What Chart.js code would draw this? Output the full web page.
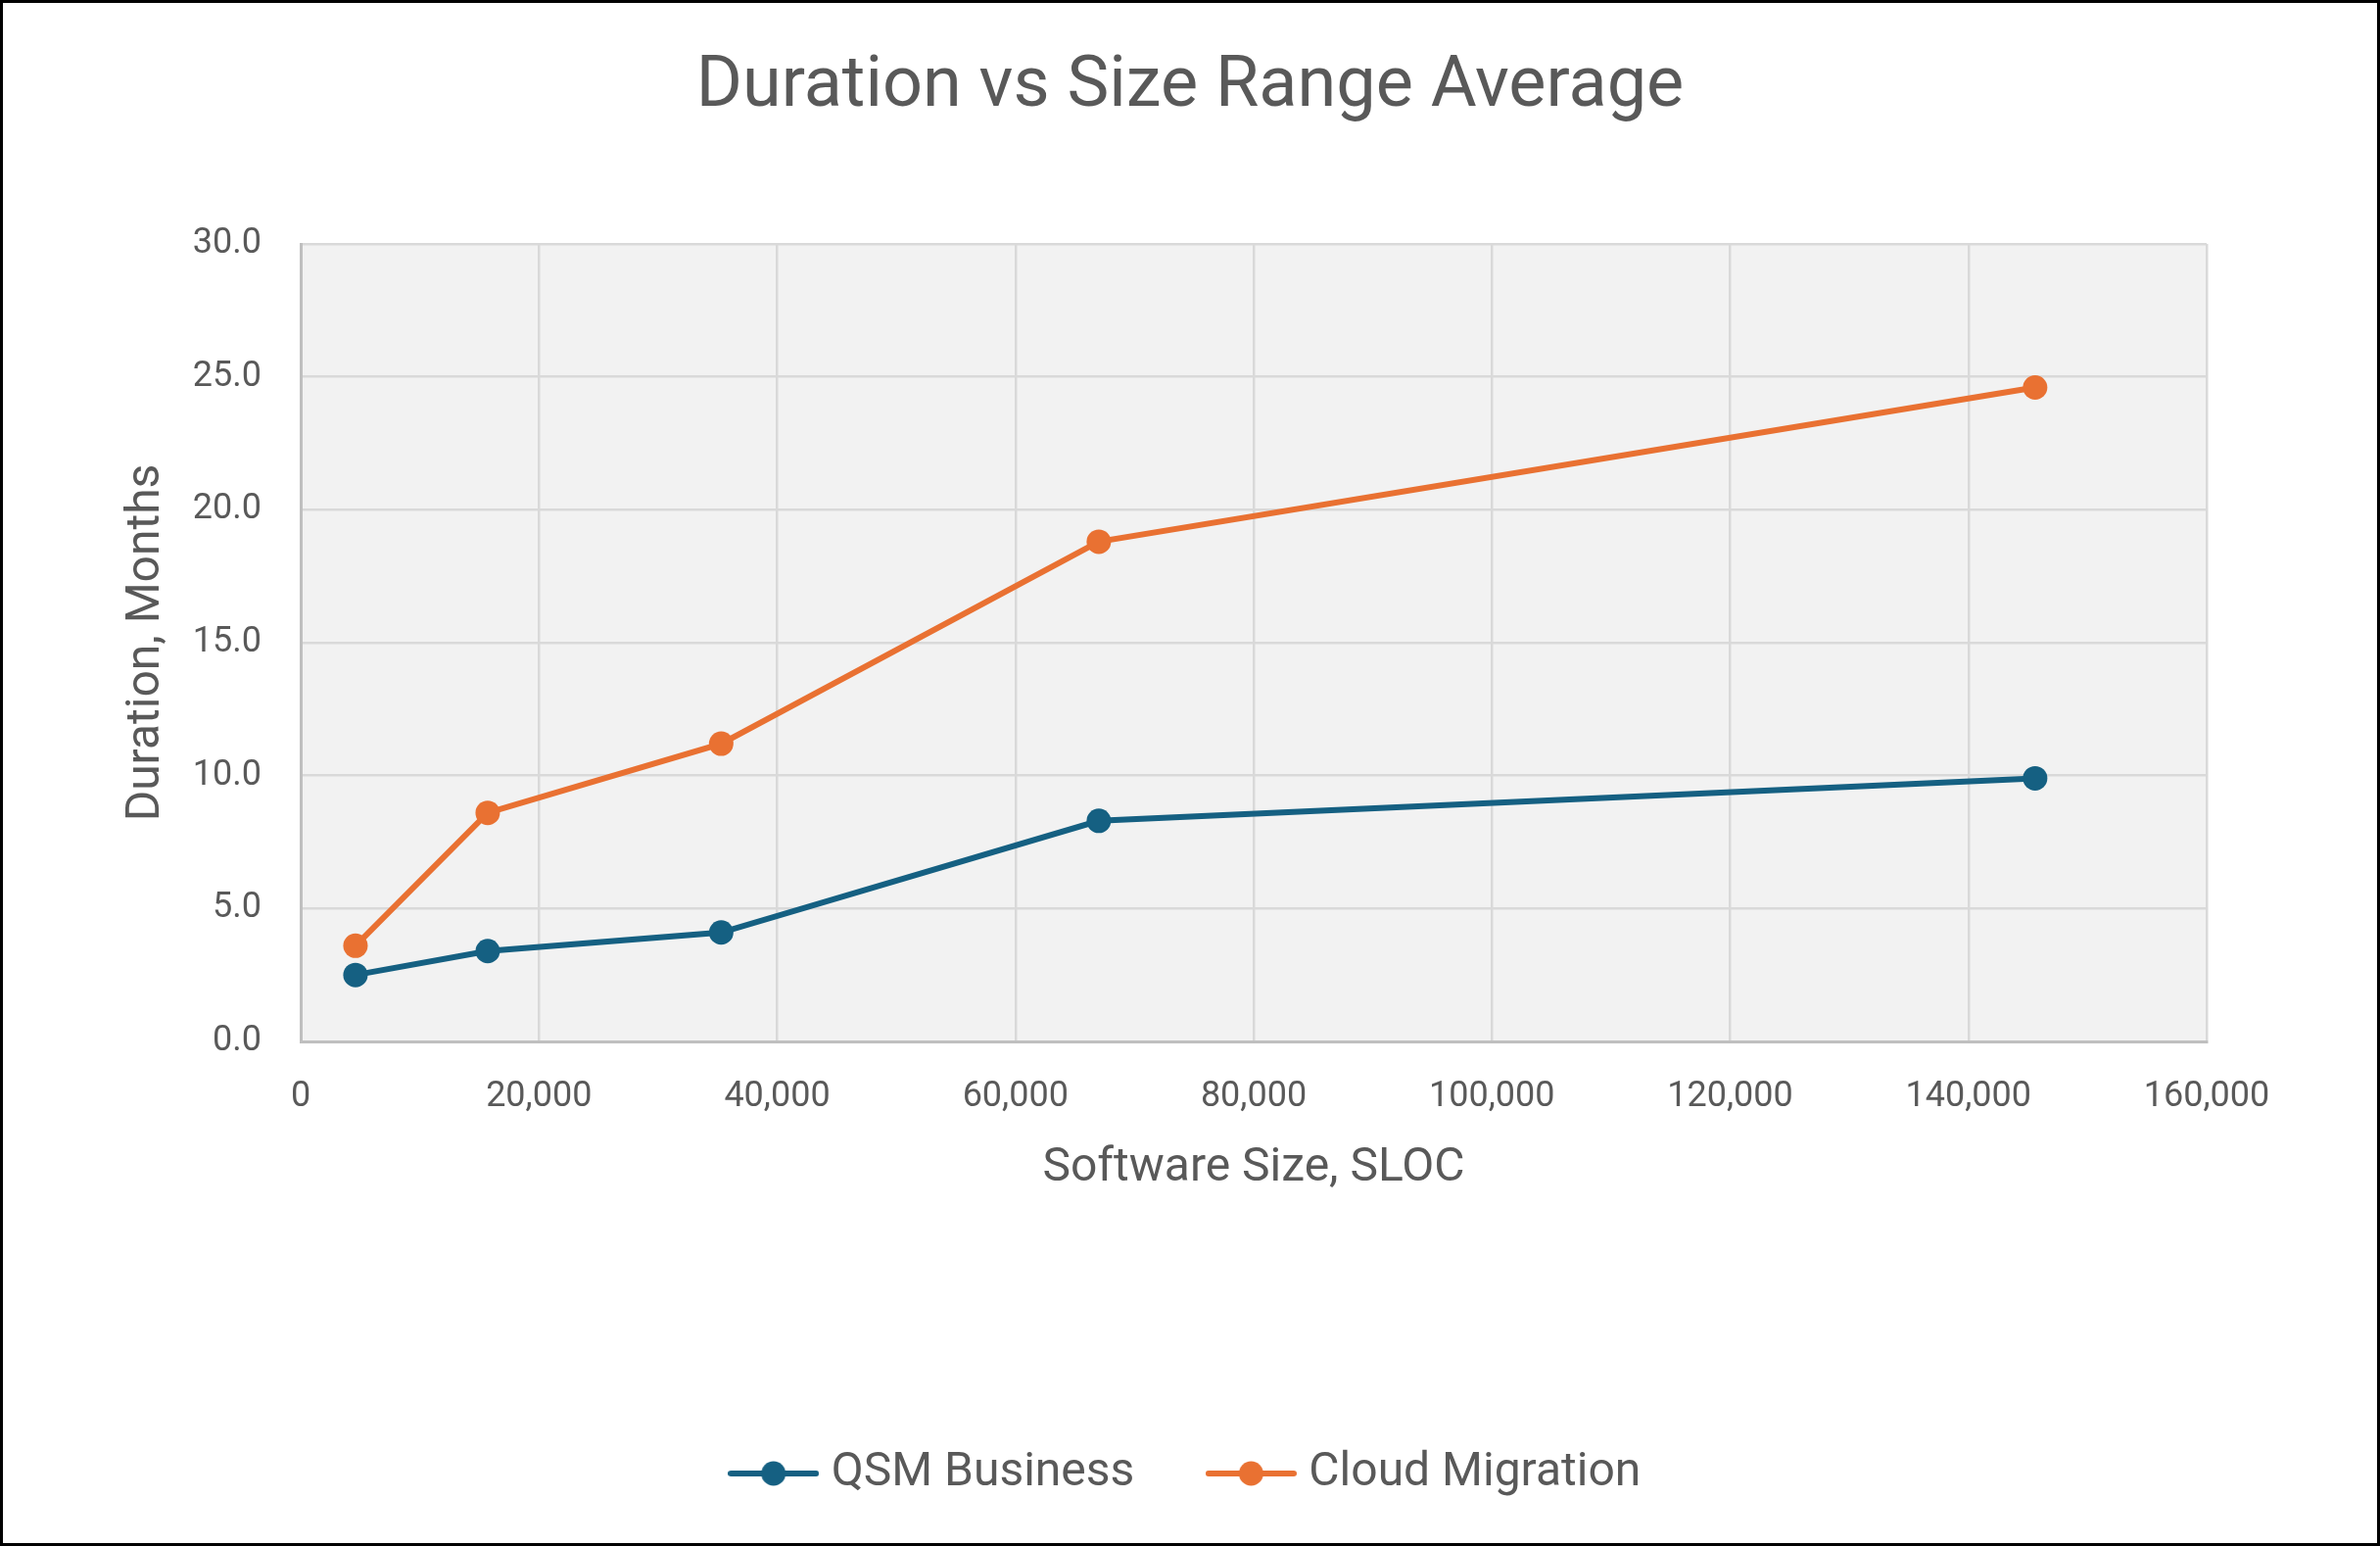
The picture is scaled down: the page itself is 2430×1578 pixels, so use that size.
<!DOCTYPE html>
<html>
<head>
<meta charset="utf-8">
<script src="https://cdn.jsdelivr.net/npm/chart.js@4.4.1/dist/chart.umd.min.js"></script>
<style>
  html, body { margin: 0; padding: 0; background: #fff; }
  canvas { display: block; }
</style>
</head>
<body>
<canvas id="chart" width="2430" height="1578" style="width:2430px;height:1578px"></canvas>
<script>
// software size (SLOC) for each size range
const sizeSloc = [4600, 15700, 35300, 67000, 145600];
// average duration in months
const qsmBusiness = [2.5, 3.4, 4.1, 8.3, 9.9];
const cloudMigration = [3.6, 8.6, 11.2, 18.8, 24.6];
const seriesNames = ['QSM Business', 'Cloud Migration'];

const blue = '#156082';
const orange = '#E97132';
const textColor = '#595959';
const font = 'Roboto';

// legend icon: short line with a dot in the middle
function legendIcon(color) {
  const c = document.createElement('canvas');
  c.width = 93;
  c.height = 26;
  const g = c.getContext('2d');
  g.strokeStyle = color;
  g.lineWidth = 6;
  g.lineCap = 'round';
  g.beginPath();
  g.moveTo(3, 13);
  g.lineTo(90, 13);
  g.stroke();
  g.fillStyle = color;
  g.beginPath();
  g.arc(46.5, 13, 12.5, 0, Math.PI * 2);
  g.fill();
  return c;
}
const icons = [legendIcon(blue), legendIcon(orange)];

const toPoints = ys => ys.map((y, i) => ({ x: sizeSloc[i], y: y }));

// grey plot area, white page and the black frame
const backdrop = {
  id: 'backdrop',
  beforeDraw(chart) {
    const { ctx, chartArea: a, width, height } = chart;
    ctx.save();
    ctx.fillStyle = '#ffffff';
    ctx.fillRect(0, 0, width, height);
    ctx.fillStyle = '#F2F2F2';
    ctx.fillRect(a.left, a.top, a.right - a.left, a.bottom - a.top);
    ctx.restore();
  },
  afterDraw(chart) {
    const { ctx, width, height } = chart;
    ctx.save();
    ctx.strokeStyle = '#000';
    ctx.lineWidth = 3;
    ctx.strokeRect(1.5, 1.5, width - 3, height - 3);
    ctx.restore();
  }
};

new Chart(document.getElementById('chart'), {
  type: 'line',
  data: {
    datasets: [
      {
        label: seriesNames[0],
        data: toPoints(qsmBusiness),
        borderColor: blue,
        backgroundColor: blue,
        borderWidth: 6,
        pointRadius: 12.5,
        pointBorderWidth: 0,
        pointBackgroundColor: blue,
        fill: false
      },
      {
        label: seriesNames[1],
        data: toPoints(cloudMigration),
        borderColor: orange,
        backgroundColor: orange,
        borderWidth: 6,
        pointRadius: 12.5,
        pointBorderWidth: 0,
        pointBackgroundColor: orange,
        fill: false
      }
    ]
  },
  options: {
    responsive: false,
    animation: false,
    devicePixelRatio: 1,
    layout: { padding: { top: 0, left: 0, right: 0, bottom: 40 } },
    plugins: {
      title: {
        display: true,
        text: 'Duration vs Size Range Average',
        color: textColor,
        font: { family: font, size: 72, weight: 'normal', lineHeight: 1.2 },
        padding: { top: 47, bottom: 115.6 }
      },
      legend: {
        position: 'bottom',
        labels: {
          color: textColor,
          font: { family: font, size: 48 },
          usePointStyle: true,
          pointStyleWidth: 70,
          padding: 84,
          generateLabels(chart) {
            const items = Chart.defaults.plugins.legend.labels.generateLabels(chart);
            items.forEach((it, i) => { it.pointStyle = icons[i]; });
            return items;
          }
        }
      },
      tooltip: { enabled: false }
    },
    scales: {
      x: {
        type: 'linear',
        min: 0,
        max: 160000,
        ticks: {
          stepSize: 20000,
          color: textColor,
          font: { family: font, size: 36 },
          padding: 35,
          maxRotation: 0,
          callback: v => v.toLocaleString('en-US')
        },
        grid: { color: '#D9D9D9', lineWidth: 2.5, drawTicks: false },
        border: { color: '#BFBFBF', width: 3 },
        title: {
          display: true,
          text: 'Software Size, SLOC',
          color: textColor,
          font: { family: font, size: 48, lineHeight: 1.2 },
          padding: { top: 0, bottom: 174 }
        },
        afterFit(scale) { scale.height = 333; }
      },
      y: {
        min: 0,
        max: 30,
        ticks: {
          stepSize: 5,
          color: textColor,
          font: { family: font, size: 36 },
          padding: 40,
          callback: v => v.toFixed(1)
        },
        grid: { color: '#D9D9D9', lineWidth: 2.5, drawTicks: false },
        border: { color: '#BFBFBF', width: 3 },
        title: {
          display: true,
          text: 'Duration, Months',
          color: textColor,
          font: { family: font, size: 48, lineHeight: 1.2 },
          padding: { top: 121.2, bottom: 0 }
        },
        afterFit(scale) { scale.width = 307; }
      },
      // empty right-hand spacer so title and legend stay centred on the page
      spacer: {
        type: 'linear',
        position: 'right',
        min: 0,
        max: 30,
        ticks: { display: false },
        grid: { display: false, drawTicks: false },
        border: { display: false },
        afterFit(scale) { scale.width = 177; }
      }
    }
  },
  plugins: [backdrop]
});
</script>
</body>
</html>
